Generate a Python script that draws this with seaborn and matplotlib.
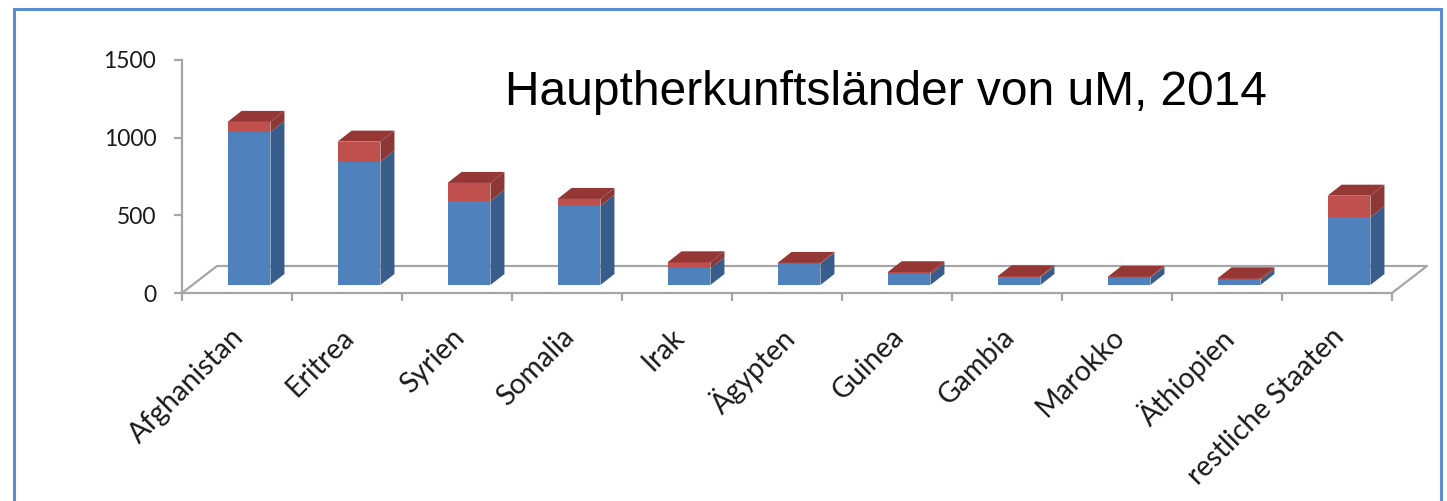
import matplotlib
matplotlib.use('Agg')
import matplotlib.pyplot as plt
from matplotlib.patches import Polygon, Rectangle
from matplotlib.transforms import offset_copy
import seaborn as sns

# Daten
laender = ['Afghanistan', 'Eritrea', 'Syrien', 'Somalia', 'Irak', 'Ägypten',
           'Guinea', 'Gambia', 'Marokko', 'Äthiopien', 'restliche Staaten']
unten = [985, 794, 541, 509, 107, 138, 68, 50, 48, 30, 436]
oben = [65, 129, 116, 45, 39, 4, 14, 6, 4, 13, 139]
gesamt = [u + o for u, o in zip(unten, oben)]

blau = '#4F81BD'
blau_seite = '#385D8A'
rot = '#C0504D'
rot_seite = '#8C3836'
rot_deckel = '#953735'
grau = '#A6A6A6'

W, H, DPI = 1447, 501, 100

sns.set_style('white')
plt.rcParams['font.family'] = ['Lato', 'DejaVu Sans']

fig = plt.figure(figsize=(W / DPI, H / DPI), dpi=DPI)
ax = fig.add_axes([182 / W, (H - 293) / H, (1392 - 182) / W, (293 - 60) / H])

# Vorderseiten der Balken
breite = 0.39
sns.barplot(x=laender, y=gesamt, color=rot, saturation=1, width=breite, ax=ax, zorder=3)
sns.barplot(x=laender, y=unten, color=blau, saturation=1, width=breite, ax=ax, zorder=3)
ax.set_xlim(-0.5, 10.5)
ax.set_ylim(0, 1500)

# Pixel -> Dateneinheiten
sx = (1392 - 182) / 11
sy = (293 - 60) / 1500
front_dx, front_dy = 12 / sx, 8 / sy     # Balken sitzen etwas hinten auf dem Boden
tief_dx, tief_dy = 14 / sx, 11 / sy      # Tiefe der Balken
boden_dx, boden_dy = 35 / sx, 27 / sy    # Tiefe des Bodens

for p in ax.patches:
    p.set_x(p.get_x() + front_dx)
    p.set_y(p.get_y() + front_dy)
    p.set_linewidth(0)

# Boden (Linien hinter den Balken)
bx = [-0.5, -0.5 + boden_dx, 10.5 + boden_dx, 10.5]
by = [0, boden_dy, boden_dy, 0]
ax.plot(bx, by, color=grau, lw=1.6, clip_on=False, zorder=1)

# Seiten und Deckel
for i in range(len(laender)):
    xr = i + breite / 2 + front_dx
    xl = i - breite / 2 + front_dx
    segs = [(0, unten[i], blau_seite), (unten[i], gesamt[i], rot_seite)]
    for y0, y1, c in segs:
        y0 += front_dy
        y1 += front_dy
        ax.add_patch(Polygon([(xr, y0), (xr + tief_dx, y0 + tief_dy),
                              (xr + tief_dx, y1 + tief_dy), (xr, y1)],
                             closed=True, color=c, lw=0, zorder=3, clip_on=False))
    t = gesamt[i] + front_dy
    ax.add_patch(Polygon([(xl, t), (xr, t), (xr + tief_dx, t + tief_dy),
                          (xl + tief_dx, t + tief_dy)],
                         closed=True, color=rot_deckel, lw=0, zorder=3, clip_on=False))

# Achsen
for s in ['top', 'right']:
    ax.spines[s].set_visible(False)
for s in ['left', 'bottom']:
    ax.spines[s].set_color(grau)
    ax.spines[s].set_linewidth(1.6)
ax.set_yticks([0, 500, 1000, 1500])
ax.tick_params(axis='y', left=True, length=6, width=1.6, color=grau, pad=12.5,
               labelsize=16.5, labelcolor='#1a1a1a')
ax.set_xticks([i - 0.5 for i in range(12)])
ax.set_xticklabels([])
ax.tick_params(axis='x', bottom=True, length=6, width=1.6, color=grau)
ax.set_xlabel('')
ax.set_ylabel('')

trans = offset_copy(ax.get_xaxis_transform(), fig=fig, x=3, y=-40, units='dots')
for i, name in enumerate(laender):
    ax.text(i, 0, name, transform=trans, rotation=45, ha='right', va='center',
            rotation_mode='anchor', fontsize=20.5, color='#1a1a1a')

fig.text(505 / W, 1 - 105 / H, 'Hauptherkunftsländer von uM, 2014',
         family='Liberation Sans', fontsize=34.5, va='baseline', ha='left',
         color='black')

# Rahmen
fig.patches.append(Rectangle((14 / W, -0.05), (1441 - 14) / W, 1 - 9 / H + 0.05,
                             transform=fig.transFigure, fill=False,
                             edgecolor='#5B8BD0', lw=2.2))

fig.savefig('out.png', dpi=DPI)
